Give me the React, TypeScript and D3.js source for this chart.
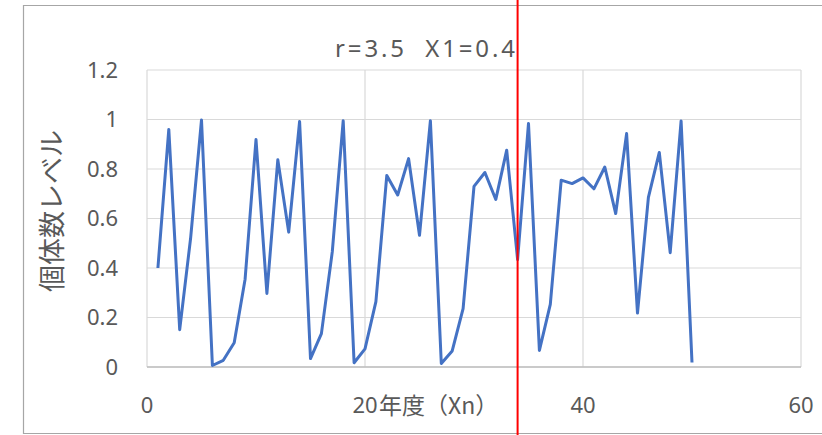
import React from 'react';
import * as d3 from 'd3';

// population level per year (n = 1..50)
const years: number[] = d3.range(1, 51);
const levels: number[] = [
  0.4, 0.96, 0.151, 0.52, 0.998, 0.006, 0.027, 0.098, 0.355, 0.919,
  0.297, 0.837, 0.545, 0.992, 0.034, 0.135, 0.466, 0.995, 0.017, 0.073,
  0.264, 0.774, 0.695, 0.842, 0.532, 0.995, 0.014, 0.065, 0.236, 0.73,
  0.786, 0.677, 0.876, 0.434, 0.984, 0.067, 0.253, 0.755, 0.741, 0.764,
  0.72, 0.808, 0.62, 0.943, 0.218, 0.685, 0.867, 0.462, 0.994, 0.018,
];
const xTicks = [0, 20, 40, 60];
const yTicks = [0, 0.2, 0.4, 0.6, 0.8, 1, 1.2];
const markerYear = 34;
const chartTitle = 'r=3.5  X1=0.4';
const xTitle = '年度（Xn）';
const yTitle = '個体数レベル';

const W = 822;
const H = 435;
const plot = { left: 147, right: 801, top: 70, bottom: 367 };
const font = "'Noto Sans', 'Noto Sans CJK JP', sans-serif";
const jpFont = "'Noto Sans CJK JP', sans-serif";
const textColor = '#595959';

export default function App() {
  const x = d3.scaleLinear().domain([0, 60]).range([plot.left, plot.right]);
  const y = d3.scaleLinear().domain([0, 1.2]).range([plot.bottom, plot.top]);

  const line = d3.line<number>()
    .x((_, i) => x(years[i]))
    .y(d => y(d));

  const fmt = (v: number) => (v === 0 ? '0' : v === 1 ? '1' : d3.format('.1f')(v));

  return (
    <div style={{ position: 'fixed', left: 0, top: 0, width: W, height: H, background: '#fff' }}>
      <svg width={W} height={H} style={{ display: 'block' }}>
        {/* outer chart border */}
        <path d={`M${W + 10},5.5 H23.5 V433.5 H${W + 10}`} fill="none" stroke="#a6a6a6" strokeWidth={1.2} />

        {/* gridlines */}
        {yTicks.map(t => (
          <line key={'gy' + t} x1={plot.left} x2={plot.right} y1={y(t)} y2={y(t)}
            stroke="#d9d9d9" strokeWidth={1.2} />
        ))}
        {xTicks.map(t => (
          <line key={'gx' + t} x1={x(t)} x2={x(t)} y1={plot.top} y2={plot.bottom}
            stroke="#d9d9d9" strokeWidth={1.2} />
        ))}
        <line x1={plot.left} x2={plot.right} y1={plot.bottom} y2={plot.bottom} stroke="#bfbfbf" strokeWidth={1.5} />

        {/* y tick labels */}
        {yTicks.map(t => (
          <text key={'ty' + t} x={118} y={y(t)} dy="0.35em" textAnchor="end"
            fontFamily={font} fontSize={22} fill={textColor}>{fmt(t)}</text>
        ))}
        {/* x tick labels */}
        {xTicks.map(t => (
          <text key={'tx' + t} x={x(t)} y={413} textAnchor="middle"
            fontFamily={font} fontSize={22} fill={textColor}>{t}</text>
        ))}

        {/* series */}
        <path d={line(levels) || ''} fill="none" stroke="#4472C4" strokeWidth={3} strokeLinejoin="round" />

        {/* titles */}
        <text x={335} y={57} fontFamily={font} fontSize={24} fill={textColor}
          textLength={180} lengthAdjust="spacing" style={{ whiteSpace: 'pre' }}>{chartTitle}</text>
        <text x={379} y={414} fontFamily={jpFont} fontSize={23} fill={textColor}>{xTitle}</text>
        <text transform={`translate(62,211) rotate(-90)`} textAnchor="middle"
          fontFamily={jpFont} fontSize={27} fill={textColor}>{yTitle}</text>

        {/* marker */}
        <line x1={x(markerYear)} x2={x(markerYear)} y1={0} y2={H} stroke="#ff0000" strokeWidth={2} />
      </svg>
    </div>
  );
}
